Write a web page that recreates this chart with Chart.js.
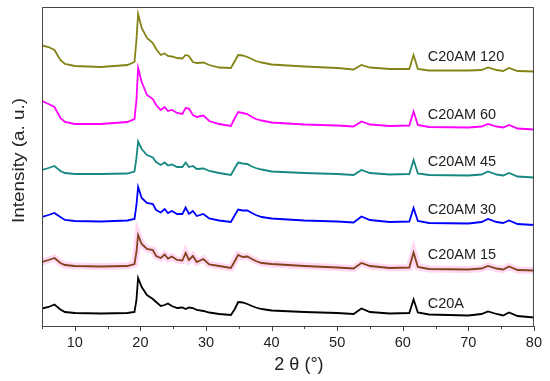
<!DOCTYPE html>
<html lang="en">
<head>
<meta charset="UTF-8">
<title>XRD patterns C20A / C20AM</title>
<script src="https://cdn.jsdelivr.net/npm/chart.js"></script>
<style>
  html, body { margin: 0; padding: 0; background: #fff; }
</style>
</head>
<body>
<canvas id="xrd" width="550" height="381"></canvas>
<script>
// 2 theta positions (deg) shared by all patterns
const twoTheta = [5, 6, 6.9, 7.8, 8.5, 10, 14, 18, 19.1, 19.4,
  19.65, 20.2, 21, 21.9, 22.4, 23.1, 23.7, 24.2, 24.8, 25.6,
  26.4, 26.9, 27.4, 28, 28.6, 29.6, 30.5, 32, 33.8, 34.4,
  34.9, 35.6, 36.3, 37, 37.6, 38.5, 40, 45, 50, 52.5,
  53.7, 55, 58, 61, 61.65, 62.3, 64, 70, 72, 73,
  74.3, 75.3, 76.2, 77.5, 80];

// intensities (a.u.), already stacked with offsets as in the figure
const c20a = [17.5, 19, 21.5, 16.5, 14, 13, 12.5, 13, 14, 26,
  48, 39, 31, 27, 24, 20, 21, 22.5, 20, 18,
  18.5, 17, 18.5, 18, 16, 15, 13.5, 12, 11, 17,
  24, 23.5, 22, 20, 18.5, 17, 15.5, 14, 13, 12,
  17.5, 14, 12.5, 13, 26.5, 13.5, 11.5, 10.5, 12, 14.5,
  12, 10.5, 13.5, 10, 8.5];
const c20am15 = [64, 66, 68, 63, 61, 60, 59.5, 60, 62, 74,
  91, 82, 77, 76, 70, 68, 71.5, 67.5, 69.5, 66,
  65.5, 73, 66, 70, 64, 67, 61.5, 60, 58, 65,
  71, 69, 69.5, 67, 65, 63, 62, 60, 58.5, 57.5,
  63, 60, 58, 58.5, 73.5, 59, 57, 56.5, 57.5, 60,
  57.5, 56.5, 59.5, 56, 55.5];
const c20am30 = [109, 111, 113, 109, 106, 105, 104.5, 105.5, 107, 121,
  139, 128, 123, 122, 116, 113.5, 117, 113, 115, 112,
  112, 118.5, 112, 115, 110, 112, 107.5, 105.5, 104, 111,
  116.5, 115.5, 115.5, 113, 111, 109, 107.5, 105.5, 104.5, 103.5,
  109.5, 106, 104, 104.5, 118, 105, 103, 102.5, 104, 107,
  104, 103, 105.5, 102, 101];
const c20am45 = [156, 158, 160, 155, 153, 152, 152, 152.5, 154.5, 168,
  184.5, 177, 171, 168.5, 164, 161, 163.5, 160.5, 161.5, 159,
  159, 163.5, 159, 160, 157, 157.5, 155, 153, 151, 158,
  163.5, 162.5, 162, 159.5, 158, 156.5, 154.5, 153, 152, 151,
  156, 153, 151.5, 152, 166, 152.5, 151, 150.5, 151.5, 154.5,
  151.5, 150.5, 153, 149.5, 148.5];
const c20am60 = [225, 222, 219, 208, 204, 202, 202, 204, 207, 226,
  258, 244, 231, 227, 221, 216, 219, 215, 216, 213,
  212, 218, 217.5, 211, 209, 210.5, 205, 202, 200, 208,
  214, 213, 212, 209, 207, 205.5, 203.5, 201.5, 200.5, 199.5,
  204.5, 201.5, 200, 200.5, 214.5, 201, 199, 198.5, 199.5, 202,
  199.5, 198.5, 201, 197.5, 196.5];
const c20am120 = [280.5, 279, 276, 266, 262, 260, 259, 261, 264, 286,
  312, 298, 288, 283, 277, 271, 272.5, 270, 269.5, 268,
  267.5, 271, 270, 264, 263, 263.5, 261, 258.5, 258, 265,
  271, 270.5, 269, 267, 265, 263.5, 261.5, 259.5, 258, 256.5,
  261, 258.5, 257, 257, 271, 257, 255.5, 255.5, 256, 258.5,
  256, 255, 258, 255, 254.5];

const seriesNames = ['C20A', 'C20AM 15', 'C20AM 30', 'C20AM 45', 'C20AM 60', 'C20AM 120'];
const seriesValues = [c20a, c20am15, c20am30, c20am45, c20am60, c20am120];
const seriesColors = ['#000000', '#84431a', '#0000ff', '#15897f', '#ff00ff', '#838316'];

// label anchors in data units
const labelX = 63.8;
const labelY = [22, 71, 116, 164, 211, 269];

const majorTicks = [10, 20, 30, 40, 50, 60, 70, 80];
const minorTicks = [5, 15, 25, 35, 45, 55, 65, 75];

const xTitle = '2 θ (°)';
const yTitle = 'Intensity (a. u.)';

const FONT = "'Liberation Sans', Arial, sans-serif";

function toPoints(values) {
  return values.map((v, i) => ({ x: twoTheta[i], y: v }));
}

const datasets = [];
// faint pink halo behind C20AM 15 (drawn underneath)
datasets.push({
  data: toPoints(c20am15),
  borderColor: 'rgba(255, 190, 236, 0.6)',
  borderWidth: 7,
  pointRadius: 0,
  tension: 0,
  order: 10
});
seriesValues.forEach((vals, i) => {
  datasets.push({
    label: seriesNames[i],
    data: toPoints(vals),
    borderColor: seriesColors[i],
    borderWidth: 1.8,
    pointRadius: 0,
    tension: 0,
    order: 0
  });
});

const framePlugin = {
  id: 'frame',
  afterDraw(chart) {
    const { ctx, chartArea: a, scales } = chart;
    ctx.save();
    ctx.strokeStyle = '#444';
    ctx.lineWidth = 1;
    ctx.strokeRect(a.left + 0.5, a.top + 0.5, a.right - a.left - 1, a.bottom - a.top);
    ctx.beginPath();
    majorTicks.forEach(t => {
      const x = Math.round(scales.x.getPixelForValue(t)) + 0.5;
      ctx.moveTo(x, a.bottom);
      ctx.lineTo(x, a.bottom + 5);
    });
    minorTicks.forEach(t => {
      const x = Math.round(scales.x.getPixelForValue(t)) + 0.5;
      ctx.moveTo(x, a.bottom);
      ctx.lineTo(x, a.bottom + 3);
    });
    ctx.stroke();

    // axis titles
    ctx.fillStyle = '#222';
    ctx.textAlign = 'center';
    ctx.textBaseline = 'middle';
    ctx.font = '18px ' + FONT;
    ctx.fillText(xTitle, (a.left + a.right) / 2 + 11, a.bottom + 39);

    ctx.translate(19.5, (a.top + a.bottom) / 2 - 6);
    ctx.rotate(-Math.PI / 2);
    ctx.font = '17px ' + FONT;
    const w = ctx.measureText(yTitle).width;
    ctx.scale(125 / w, 1);
    ctx.fillText(yTitle, 0, 0);
    ctx.restore();
  }
};

const labelPlugin = {
  id: 'seriesLabels',
  afterDatasetsDraw(chart) {
    const { ctx, scales } = chart;
    ctx.save();
    ctx.font = '14.5px ' + FONT;
    ctx.fillStyle = '#222';
    ctx.textAlign = 'left';
    ctx.textBaseline = 'middle';
    seriesNames.forEach((name, i) => {
      ctx.fillText(name, scales.x.getPixelForValue(labelX), scales.y.getPixelForValue(labelY[i]));
    });
    ctx.restore();
  }
};

new Chart(document.getElementById('xrd'), {
  type: 'line',
  data: { datasets },
  options: {
    responsive: false,
    animation: false,
    layout: { padding: { top: 7, right: 13, left: 0, bottom: 0 } },
    plugins: { legend: { display: false }, tooltip: { enabled: false } },
    scales: {
      x: {
        type: 'linear',
        min: 5,
        max: 80,
        grid: { display: false, drawTicks: false },
        border: { display: false },
        ticks: {
          stepSize: 10,
          padding: 8,
          color: '#222',
          font: { family: FONT, size: 14.5 },
          callback: v => (v % 10 === 0 ? v : '')
        },
        afterFit(scale) { scale.height = 55; }
      },
      y: {
        min: 0,
        max: 319,
        grid: { display: false, drawTicks: false },
        border: { display: false },
        ticks: { display: false },
        afterFit(scale) { scale.width = 42; }
      }
    }
  },
  plugins: [framePlugin, labelPlugin]
});
</script>
</body>
</html>
